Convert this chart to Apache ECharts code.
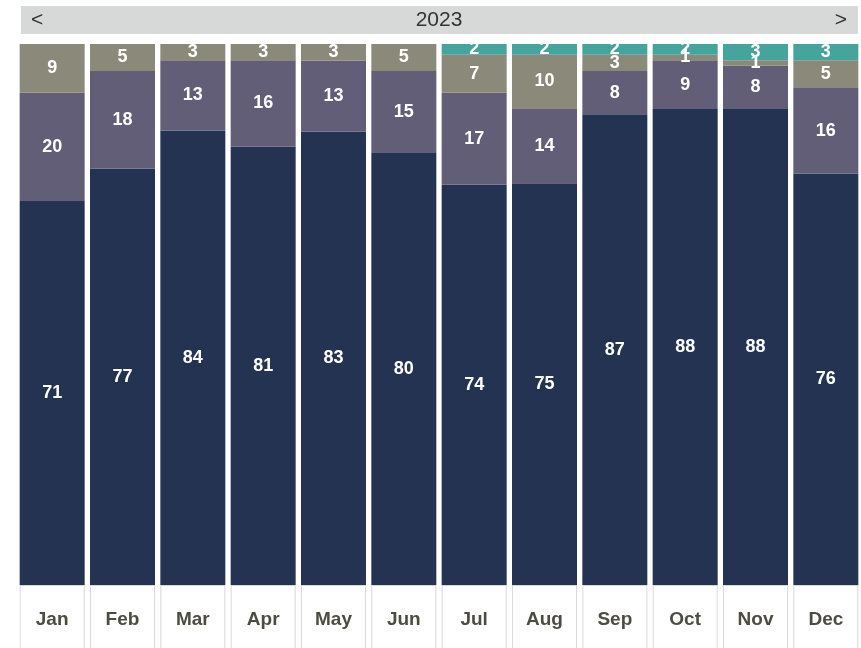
<!DOCTYPE html>
<html>
<head>
<meta charset="utf-8">
<script src="https://cdn.jsdelivr.net/npm/echarts@6/dist/echarts.min.js"></script>
<style>html,body{margin:0;padding:0;background:#fff}#c{width:861px;height:648px}</style>
</head>
<body>
<div id="c"></div>
<script>
const categories = ['Jan','Feb','Mar','Apr','May','Jun','Jul','Aug','Sep','Oct','Nov','Dec'];
const seriesA = [71,77,84,81,83,80,74,75,87,88,88,76];
const seriesB = [20,18,13,16,13,15,17,14,8,9,8,16];
const seriesC = [9,5,3,3,3,5,7,10,3,1,1,5];
const seriesD = [0,0,0,0,0,0,2,2,2,2,3,3];
const yearLabel = '2023';

const raw = [seriesA, seriesB, seriesC, seriesD];
const colors = ['#243352', '#625e78', '#8b8a7a', '#45a59c'];
const totals = categories.map((_, i) => raw.reduce((s, a) => s + a[i], 0));
const FONT = '"Liberation Sans", Arial, sans-serif';

const chart = echarts.init(document.getElementById('c'), null, {renderer: 'canvas'});
chart.setOption({
  animation: false,
  grid: {left: 17, right: 0, top: 44, bottom: 63, outerBoundsMode: 'none', containLabel: false},
  graphic: [
    {type: 'rect', shape: {x: 21, y: 6, width: 837, height: 28}, style: {fill: '#d7d9d8'}, z: 0},
    {type: 'text', x: 31, y: 20, style: {text: '<', fill: '#333', font: '21px ' + FONT, align: 'left', verticalAlign: 'middle'}},
    {type: 'text', x: 439, y: 20, style: {text: yearLabel, fill: '#333', font: '21px ' + FONT, align: 'center', verticalAlign: 'middle'}},
    {type: 'text', x: 847, y: 20, style: {text: '>', fill: '#333', font: '21px ' + FONT, align: 'right', verticalAlign: 'middle'}}
  ],
  xAxis: {
    type: 'category',
    data: categories,
    axisLine: {show: false},
    axisTick: {show: false},
    axisLabel: {
      interval: 0,
      margin: 1,
      color: '#4c4c40',
      fontWeight: 'bold',
      fontSize: 19,
      fontFamily: FONT,
      width: 63,
      height: 68,
      lineHeight: 68,
      align: 'center',
      verticalAlign: 'top',
      backgroundColor: '#fff',
      borderColor: '#d9d9d9',
      borderWidth: 1
    }
  },
  yAxis: {type: 'value', min: 0, max: 100, show: false, splitLine: {show: false}},
  series: raw.map((arr, k) => ({
    type: 'bar',
    stack: 'total',
    barWidth: 65,
    itemStyle: {color: colors[k]},
    data: arr.map((v, i) => v / totals[i] * 100),
    label: {
      show: true,
      position: 'inside',
      color: '#fff',
      fontWeight: 'bold',
      fontSize: 18,
      fontFamily: FONT,
      formatter: p => arr[p.dataIndex] === 0 ? '' : String(arr[p.dataIndex])
    }
  }))
});
</script>
</body>
</html>
